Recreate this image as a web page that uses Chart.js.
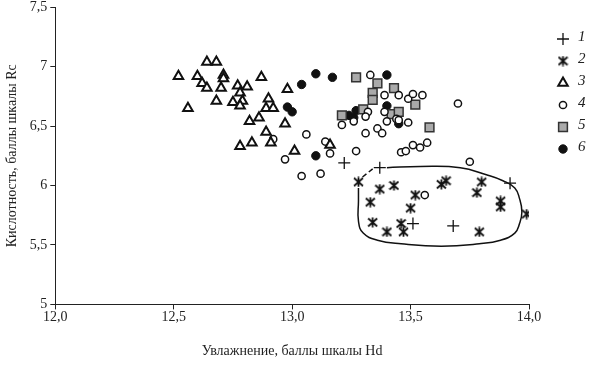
<!DOCTYPE html>
<html>
<head>
<meta charset="utf-8">
<script src="https://cdn.jsdelivr.net/npm/chart.js@4/dist/chart.umd.min.js"></script>
<style>
  body { margin: 0; background: #fff; }
  #wrap { width: 600px; height: 370px; }
</style>
</head>
<body>
<div id="wrap"><canvas id="chart" width="600" height="370"></canvas></div>
<script>
// axis tick labels and legend names
const xTickLabels = ['12,0', '12,5', '13,0', '13,5', '14,0'];
const yTickLabels = ['5', '5,5', '6', '6,5', '7', '7,5'];
const seriesNames = ['1', '2', '3', '4', '5', '6'];
const xTitle = 'Увлажнение, баллы шкалы Hd';
const yTitle = 'Кислотность, баллы шкалы Rc';

// [Hd, Rc] pairs
const series1 = [[13.22, 6.19], [13.37, 6.15], [13.92, 6.02], [13.51, 5.68], [13.68, 5.66]];
const series2 = [[13.28, 6.03], [13.37, 5.97], [13.43, 6.00], [13.52, 5.92], [13.63, 6.01], [13.65, 6.04],
  [13.80, 6.03], [13.78, 5.94], [13.33, 5.86], [13.50, 5.81], [13.88, 5.87], [13.88, 5.82], [13.99, 5.76],
  [13.34, 5.69], [13.40, 5.61], [13.46, 5.68], [13.47, 5.61], [13.79, 5.61]];
const series3 = [[12.64, 7.04], [12.68, 7.04], [12.52, 6.92], [12.60, 6.92], [12.71, 6.93], [12.71, 6.90],
  [12.87, 6.91], [12.62, 6.86], [12.64, 6.82], [12.70, 6.82], [12.77, 6.84], [12.81, 6.83], [12.78, 6.78],
  [12.68, 6.71], [12.75, 6.70], [12.79, 6.71], [12.78, 6.67], [12.56, 6.65], [12.90, 6.73], [12.89, 6.65],
  [12.92, 6.65], [12.86, 6.57], [12.82, 6.54], [12.89, 6.45], [12.78, 6.33], [12.83, 6.36], [12.91, 6.36],
  [12.98, 6.81], [12.97, 6.52], [13.01, 6.29], [13.16, 6.34]];
const series4 = [[13.33, 6.93], [13.39, 6.76], [13.45, 6.76], [13.49, 6.73], [13.51, 6.77], [13.55, 6.76],
  [13.70, 6.69], [13.32, 6.62], [13.31, 6.58], [13.26, 6.54], [13.40, 6.54], [13.44, 6.56], [13.45, 6.55],
  [13.49, 6.53], [13.21, 6.51], [13.31, 6.44], [13.36, 6.48], [13.38, 6.44], [13.06, 6.43], [13.14, 6.37],
  [13.16, 6.27], [13.27, 6.29], [13.46, 6.28], [13.48, 6.29], [13.51, 6.34], [13.54, 6.32], [13.57, 6.36],
  [13.75, 6.20], [12.97, 6.22], [13.04, 6.08], [13.12, 6.10], [12.92, 6.39], [13.56, 5.92], [13.39, 6.62]];
const series5 = [[13.27, 6.91], [13.36, 6.86], [13.43, 6.82], [13.34, 6.78], [13.34, 6.72], [13.52, 6.68],
  [13.30, 6.64], [13.42, 6.60], [13.45, 6.62], [13.21, 6.59], [13.58, 6.49]];
const series6 = [[13.10, 6.94], [13.17, 6.91], [13.40, 6.93], [13.04, 6.85], [12.98, 6.66], [13.00, 6.62],
  [13.40, 6.67], [13.24, 6.59], [13.26, 6.57], [13.27, 6.63], [13.45, 6.52], [13.10, 6.25]];

// hand-drawn outline around group 2
const outline = [[13.28, 5.98], [13.28, 5.87], [13.28, 5.70], [13.30, 5.60], [13.36, 5.54], [13.46, 5.51],
  [13.63, 5.49], [13.79, 5.51], [13.88, 5.54], [13.94, 5.60], [13.96, 5.68], [13.97, 5.78], [13.96, 5.89],
  [13.94, 5.98], [13.89, 6.04], [13.82, 6.09], [13.71, 6.15], [13.54, 6.16], [13.40, 6.15]];
const outlineDash = [[13.34, 6.14], [13.29, 6.06]];

const FONT = "'Liberation Serif', 'Times New Roman', serif";
const toXY = arr => arr.map(p => ({x: p[0], y: p[1]}));

// six-ray asterisk like the reference
function makeAsterisk(size) {
  const c = document.createElement('canvas');
  c.width = size; c.height = size;
  const g = c.getContext('2d');
  const m = size / 2;
  g.strokeStyle = '#111';
  g.lineWidth = 1.8;
  g.beginPath();
  g.moveTo(m, 0.5); g.lineTo(m, size - 0.5);
  g.moveTo(1, 1.5); g.lineTo(size - 1, size - 1.5);
  g.moveTo(size - 1, 1.5); g.lineTo(1, size - 1.5);
  g.stroke();
  return c;
}
const asterisk = makeAsterisk(11);

const styles = [
  {pointStyle: 'cross', pointRadius: 6, borderColor: '#111', backgroundColor: '#111', borderWidth: 1.3},
  {pointStyle: asterisk, pointRadius: 6, borderColor: '#111', backgroundColor: '#111', borderWidth: 1},
  {pointStyle: 'triangle', pointRadius: 5.5, borderColor: '#111', backgroundColor: '#fff', borderWidth: 2},
  {pointStyle: 'circle', pointRadius: 3.6, borderColor: '#111', backgroundColor: '#fff', borderWidth: 1.5},
  {pointStyle: 'rect', pointRadius: 6.2, borderColor: '#333', backgroundColor: '#aaa', borderWidth: 1.5},
  {pointStyle: 'circle', pointRadius: 4.2, borderColor: '#111', backgroundColor: '#111', borderWidth: 1}
];
const allSeries = [series1, series2, series3, series4, series5, series6];

const datasets = allSeries.map((s, i) => Object.assign({
  label: seriesNames[i],
  data: toXY(s),
  showLine: false,
  pointHoverRadius: styles[i].pointRadius
}, styles[i]));

datasets.push({
  type: 'line', label: 'outline', data: toXY(outline),
  borderColor: '#111', borderWidth: 1.5, pointRadius: 0, tension: 0.45, fill: false
});
datasets.push({
  type: 'line', label: 'outlineDash', data: toXY(outlineDash),
  borderColor: '#111', borderWidth: 1.5, borderDash: [5, 3], pointRadius: 0, fill: false
});

// legend drawn at the right, symbols then italic numbers
const sideLegend = {
  id: 'sideLegend',
  afterDraw(chart) {
    const ctx = chart.ctx;
    const x0 = chart.chartArea.right + 34;
    ctx.save();
    styles.forEach((st, i) => {
      const y = 39 + i * 22;
      ctx.fillStyle = st.backgroundColor;
      ctx.strokeStyle = st.borderColor;
      ctx.lineWidth = st.borderWidth;
      Chart.helpers.drawPoint(ctx, {
        pointStyle: st.pointStyle, radius: st.pointRadius, rotation: 0, borderWidth: st.borderWidth
      }, x0, y);
      ctx.fillStyle = '#222';
      ctx.font = 'italic 15px ' + FONT;
      ctx.textAlign = 'left';
      ctx.textBaseline = 'middle';
      ctx.fillText(seriesNames[i], x0 + 15, y - 2);
    });
    ctx.restore();
  }
};

new Chart(document.getElementById('chart'), {
  type: 'scatter',
  data: {datasets: datasets},
  plugins: [sideLegend],
  options: {
    responsive: false,
    animation: false,
    layout: {autoPadding: false, padding: {left: 2, right: 71, top: 2, bottom: 10}},
    plugins: {legend: {display: false}, tooltip: {enabled: false}},
    scales: {
      x: {
        min: 12, max: 14,
        ticks: {
          stepSize: 0.5, padding: 0, color: '#222', font: {family: FONT, size: 14},
          callback: (v, i) => xTickLabels[i]
        },
        grid: {drawOnChartArea: false, drawTicks: true, tickLength: 5, color: '#222'},
        border: {color: '#222', width: 1},
        title: {display: true, text: xTitle, color: '#222', font: {family: FONT, size: 14}, padding: {top: 17, bottom: 0}}
      },
      y: {
        min: 5, max: 7.5,
        ticks: {
          stepSize: 0.5, padding: 3, color: '#222', font: {family: FONT, size: 14, lineHeight: 0.6},
          callback: (v, i) => yTickLabels[i]
        },
        grid: {drawOnChartArea: false, drawTicks: true, tickLength: 5, color: '#222'},
        border: {color: '#222', width: 1},
        title: {display: true, text: yTitle, color: '#222', font: {family: FONT, size: 14}, padding: {top: 2, bottom: 6}}
      }
    }
  }
});
</script>
</body>
</html>
